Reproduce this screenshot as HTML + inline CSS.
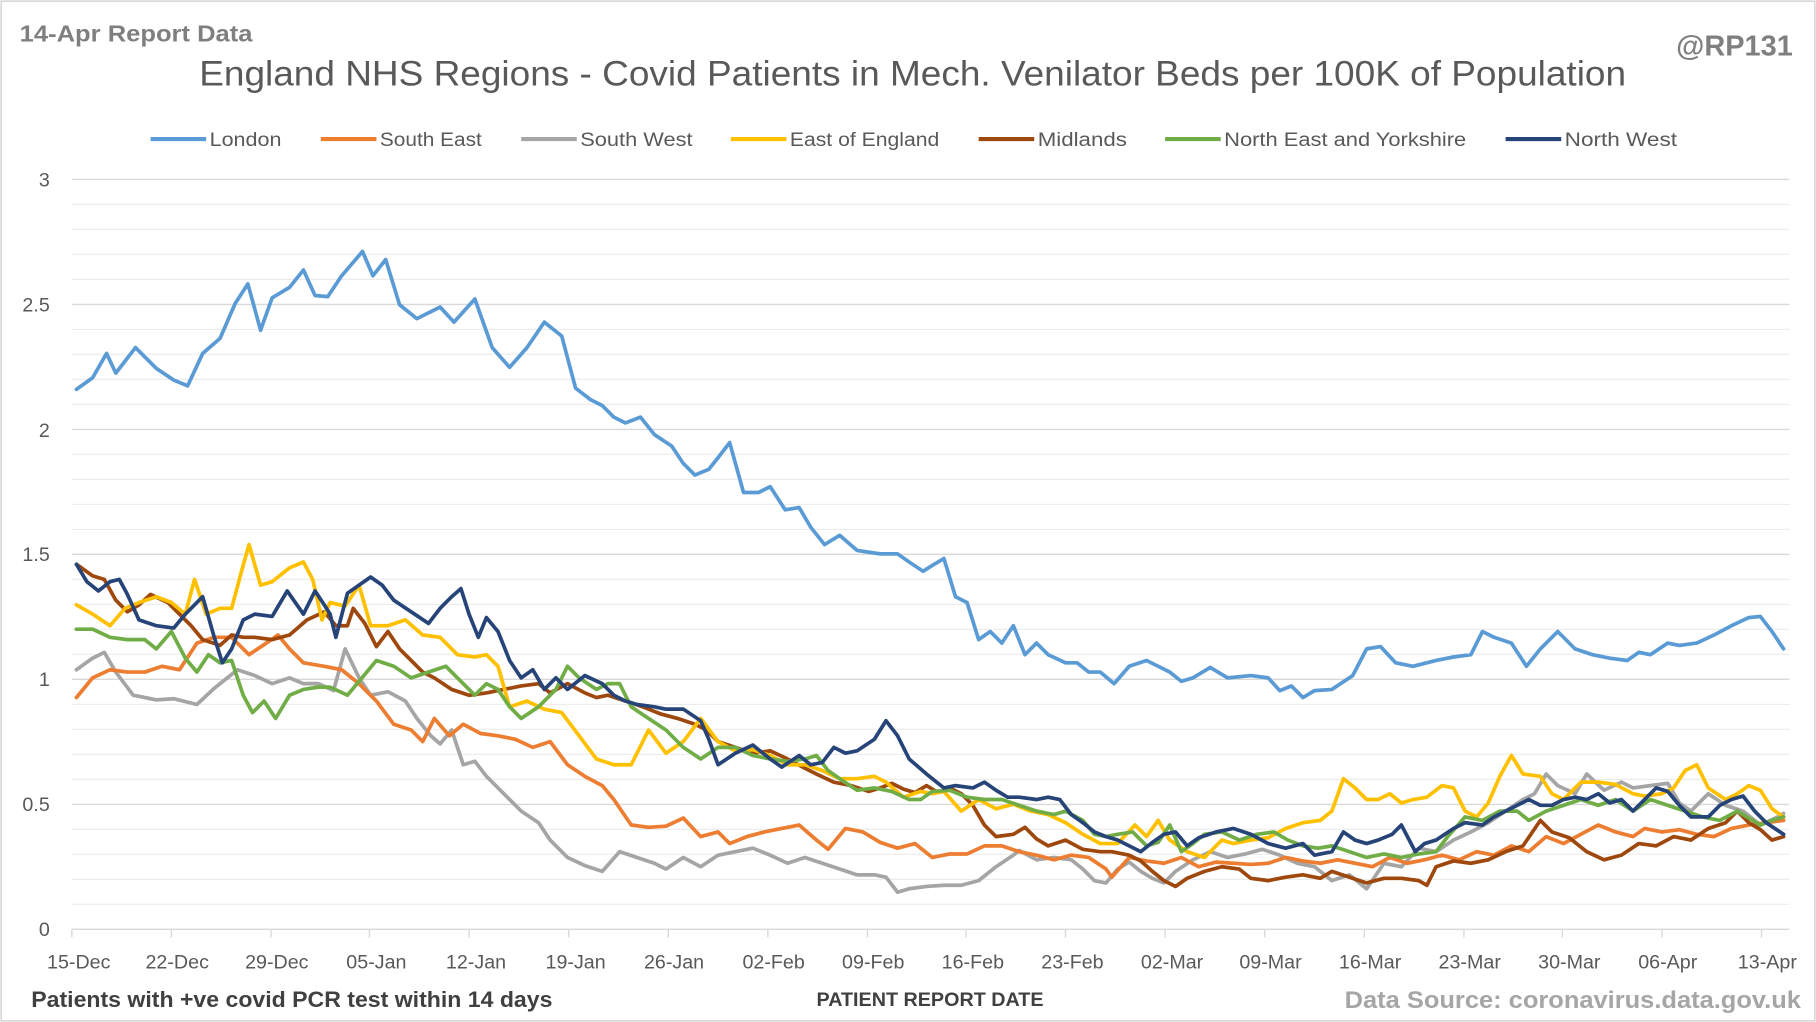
<!DOCTYPE html>
<html><head><meta charset="utf-8"><style>html,body{margin:0;padding:0;background:#fff}svg{display:block}</style></head>
<body>
<svg width="1816" height="1022" viewBox="0 0 1568 882" preserveAspectRatio="none" xmlns="http://www.w3.org/2000/svg" font-family="Liberation Sans, sans-serif">
<rect x="1" y="1" width="1566" height="880" fill="#fff" stroke="#d9d9d9" stroke-width="1.5"/>
<g stroke="#ececec" stroke-width="1">
<line x1="62" x2="1545" y1="780.4" y2="780.4"/><line x1="62" x2="1545" y1="758.9" y2="758.9"/><line x1="62" x2="1545" y1="737.3" y2="737.3"/><line x1="62" x2="1545" y1="715.7" y2="715.7"/>
<line x1="62" x2="1545" y1="672.6" y2="672.6"/><line x1="62" x2="1545" y1="651" y2="651"/><line x1="62" x2="1545" y1="629.4" y2="629.4"/><line x1="62" x2="1545" y1="607.9" y2="607.9"/>
<line x1="62" x2="1545" y1="564.7" y2="564.7"/><line x1="62" x2="1545" y1="543.1" y2="543.1"/><line x1="62" x2="1545" y1="521.6" y2="521.6"/><line x1="62" x2="1545" y1="500" y2="500"/>
<line x1="62" x2="1545" y1="456.9" y2="456.9"/><line x1="62" x2="1545" y1="435.3" y2="435.3"/><line x1="62" x2="1545" y1="413.7" y2="413.7"/><line x1="62" x2="1545" y1="392.1" y2="392.1"/>
<line x1="62" x2="1545" y1="349" y2="349"/><line x1="62" x2="1545" y1="327.4" y2="327.4"/><line x1="62" x2="1545" y1="305.8" y2="305.8"/><line x1="62" x2="1545" y1="284.3" y2="284.3"/>
<line x1="62" x2="1545" y1="241.1" y2="241.1"/><line x1="62" x2="1545" y1="219.5" y2="219.5"/><line x1="62" x2="1545" y1="198" y2="198"/><line x1="62" x2="1545" y1="176.4" y2="176.4"/>
</g>
<g stroke="#d9d9d9" stroke-width="1.2">
<line x1="62" x2="1545" y1="694.2" y2="694.2"/><line x1="62" x2="1545" y1="586.3" y2="586.3"/><line x1="62" x2="1545" y1="478.4" y2="478.4"/><line x1="62" x2="1545" y1="370.6" y2="370.6"/><line x1="62" x2="1545" y1="262.7" y2="262.7"/><line x1="62" x2="1545" y1="154.9" y2="154.9"/>
<line x1="62" x2="1545" y1="802" y2="802"/>
<path d="M62 802v7M148 802v7M234 802v7M319 802v7M405 802v7M491 802v7M577 802v7M663 802v7M749 802v7M834 802v7M920 802v7M1006 802v7M1092 802v7M1178 802v7M1264 802v7M1349 802v7M1435 802v7M1521 802v7"/>
</g>
<g fill="#595959" font-size="17" text-anchor="end">
<text x="43" y="808">0</text><text x="43" y="700">0.5</text><text x="43" y="592">1</text><text x="43" y="484">1.5</text><text x="43" y="377">2</text><text x="43" y="269">2.5</text><text x="43" y="161">3</text>
</g>
<g fill="#595959" font-size="17" text-anchor="middle">
<text x="68" y="836">15-Dec</text><text x="153" y="836">22-Dec</text><text x="239" y="836">29-Dec</text><text x="325" y="836">05-Jan</text><text x="411" y="836">12-Jan</text><text x="497" y="836">19-Jan</text><text x="582" y="836">26-Jan</text><text x="668" y="836">02-Feb</text><text x="754" y="836">09-Feb</text><text x="840" y="836">16-Feb</text><text x="926" y="836">23-Feb</text><text x="1012" y="836">02-Mar</text><text x="1097" y="836">09-Mar</text><text x="1183" y="836">16-Mar</text><text x="1269" y="836">23-Mar</text><text x="1355" y="836">30-Mar</text><text x="1440" y="836">06-Apr</text><text x="1526" y="836">13-Apr</text>
</g>
<text x="17" y="36" font-size="20" font-weight="bold" fill="#7f7f7f" textLength="201" lengthAdjust="spacingAndGlyphs">14-Apr Report Data</text>
<text x="1548" y="48" font-size="25" font-weight="bold" fill="#7f7f7f" text-anchor="end">@RP131</text>
<text x="788" y="74" font-size="30" fill="#595959" text-anchor="middle" textLength="1232" lengthAdjust="spacingAndGlyphs">England NHS Regions - Covid Patients in Mech. Venilator Beds per 100K of Population</text>
<text x="27" y="869" font-size="19" font-weight="bold" fill="#404040" textLength="450" lengthAdjust="spacingAndGlyphs">Patients with +ve covid PCR test within 14 days</text>
<text x="803" y="868" font-size="17" font-weight="bold" fill="#404040" text-anchor="middle" textLength="196" lengthAdjust="spacingAndGlyphs">PATIENT REPORT DATE</text>
<text x="1161" y="870" font-size="21" font-weight="bold" fill="#a6a6a6" textLength="394" lengthAdjust="spacingAndGlyphs">Data Source: coronavirus.data.gov.uk</text>
<g font-size="17" fill="#595959" stroke-width="3.5">
<line x1="130" x2="178" y1="120" y2="120" stroke="#5b9bd5"/><text x="181" y="126" textLength="62" lengthAdjust="spacingAndGlyphs">London</text>
<line x1="277" x2="325" y1="120" y2="120" stroke="#ed7d31"/><text x="328" y="126" textLength="88" lengthAdjust="spacingAndGlyphs">South East</text>
<line x1="450" x2="498" y1="120" y2="120" stroke="#a5a5a5"/><text x="501" y="126" textLength="97" lengthAdjust="spacingAndGlyphs">South West</text>
<line x1="631" x2="679" y1="120" y2="120" stroke="#ffc000"/><text x="682" y="126" textLength="129" lengthAdjust="spacingAndGlyphs">East of England</text>
<line x1="845" x2="893" y1="120" y2="120" stroke="#9e480e"/><text x="896" y="126" textLength="77" lengthAdjust="spacingAndGlyphs">Midlands</text>
<line x1="1006" x2="1054" y1="120" y2="120" stroke="#70ad47"/><text x="1057" y="126" textLength="209" lengthAdjust="spacingAndGlyphs">North East and Yorkshire</text>
<line x1="1300" x2="1348" y1="120" y2="120" stroke="#264478"/><text x="1351" y="126" textLength="97" lengthAdjust="spacingAndGlyphs">North West</text>
</g>
<g fill="none" stroke-width="3.2" stroke-linejoin="round" stroke-linecap="round">
<polyline stroke="#a5a5a5" points="66,578 80,568 90,563 100,580 115,600 135,604 150,603 170,608 185,594 205,578 220,583 235,590 250,585 262,590 275,590 288,596 298,560 310,585 320,600 335,597 350,605 360,620 372,635 380,642 390,630 400,660 410,657 420,670 435,685 450,700 465,710 475,725 490,740 505,747 520,752 535,735 550,740 565,745 575,750 590,740 605,748 620,738 635,735 650,732 665,738 680,745 695,740 710,745 725,750 740,755 755,755 765,757 775,770 785,767 800,765 815,764 830,764 845,760 860,748 875,738 880,734 895,742 910,740 925,742 935,750 945,760 955,762 965,750 975,744 985,752 995,758 1005,762 1015,752 1030,742 1045,735 1060,740 1075,737 1090,733 1105,738 1120,745 1135,748 1150,760 1165,755 1180,767 1195,745 1210,748 1225,732 1240,735 1255,725 1270,718 1285,710 1300,700 1315,690 1325,685 1335,668 1345,678 1360,685 1370,668 1385,682 1400,675 1410,680 1425,678 1440,676 1450,693 1460,700 1475,685 1490,695 1505,700 1520,712 1535,705 1540,702"/>
<polyline stroke="#ed7d31" points="66,602 80,585 95,578 110,580 125,580 140,575 155,578 170,555 185,550 200,550 215,565 230,555 240,548 250,560 262,572 280,575 295,578 310,590 325,605 340,625 355,630 365,640 375,620 388,635 400,625 415,633 430,635 445,638 460,645 475,640 490,660 505,670 520,678 530,690 545,712 560,714 575,713 590,706 605,722 620,718 630,728 645,722 660,718 675,715 690,712 705,725 715,733 730,715 745,718 760,727 775,732 790,728 805,740 820,737 835,737 850,730 865,730 880,735 895,738 910,742 925,738 940,740 955,750 960,757 975,740 990,743 1005,745 1020,740 1035,748 1050,744 1065,745 1080,746 1095,745 1110,740 1125,743 1140,745 1155,742 1170,745 1185,748 1200,740 1215,745 1230,742 1245,738 1260,742 1275,735 1290,738 1305,730 1320,735 1335,722 1350,728 1365,720 1380,712 1395,718 1410,722 1420,715 1435,718 1450,716 1465,720 1480,722 1495,715 1510,712 1525,710 1540,708"/>
<polyline stroke="#9e480e" points="66,487 80,497 90,500 100,518 110,528 120,522 130,513 145,520 155,530 165,540 175,552 190,557 200,548 210,550 220,550 235,552 250,548 265,535 280,528 290,540 300,540 305,525 315,538 325,558 335,545 345,560 355,570 365,580 375,585 390,595 405,600 420,598 435,595 450,592 465,590 475,598 490,590 505,598 515,602 525,600 540,605 555,610 570,616 585,620 600,625 610,630 620,640 635,645 650,650 665,648 680,655 695,663 705,668 720,675 735,678 750,683 760,680 770,676 780,681 790,684 800,678 810,684 820,680 830,685 840,695 850,712 860,722 875,720 885,714 895,724 905,730 920,725 935,733 950,735 960,735 975,738 985,743 995,752 1005,760 1015,765 1025,758 1040,752 1055,748 1070,750 1080,758 1095,760 1110,757 1125,755 1140,758 1150,752 1165,757 1180,762 1195,758 1210,758 1225,760 1232,764 1240,748 1255,743 1270,745 1285,742 1300,735 1315,730 1330,708 1340,718 1355,723 1370,735 1385,742 1400,738 1415,728 1430,730 1445,722 1460,725 1475,715 1490,710 1500,700 1510,710 1520,716 1530,725 1540,722"/>
<polyline stroke="#ffc000" points="66,522 80,530 95,540 108,525 120,520 135,515 148,520 160,530 168,500 178,530 190,525 200,525 208,495 215,470 225,505 235,502 250,490 262,485 270,500 278,535 285,520 298,523 310,505 320,540 335,540 350,535 365,548 380,550 395,565 410,567 420,565 430,575 440,610 455,605 470,612 485,615 500,635 515,655 530,660 545,660 560,630 575,650 590,640 605,620 620,640 635,648 650,647 665,652 680,660 695,660 710,665 725,672 740,672 755,670 765,675 780,688 795,683 805,685 815,683 830,700 845,690 860,698 875,694 890,700 905,703 920,710 935,720 950,728 965,728 980,712 990,722 1000,708 1010,725 1025,735 1040,740 1055,725 1065,728 1080,725 1095,723 1110,715 1125,710 1140,708 1150,700 1160,672 1170,680 1180,690 1190,690 1200,685 1210,693 1220,690 1232,688 1245,678 1255,680 1265,700 1275,705 1285,693 1295,670 1305,652 1315,668 1330,670 1340,685 1350,690 1365,675 1380,675 1395,677 1410,685 1420,687 1435,685 1445,680 1455,665 1465,660 1475,680 1490,690 1500,685 1510,678 1520,682 1530,698 1540,705"/>
<polyline stroke="#70ad47" points="66,543 80,543 95,550 110,552 125,552 135,560 148,545 160,568 170,580 180,565 190,572 200,570 210,600 218,615 228,605 238,620 250,600 262,595 275,593 285,593 300,600 315,582 325,570 340,575 355,585 370,580 385,575 400,590 410,600 420,590 430,595 440,610 450,620 465,610 480,595 490,575 500,585 515,595 525,590 535,590 545,610 560,620 575,630 590,645 605,655 620,645 635,645 650,652 665,655 680,657 695,655 705,652 715,665 725,672 740,682 755,680 770,683 785,690 795,690 805,683 820,682 835,688 850,690 865,690 880,695 895,700 910,703 920,700 935,708 945,720 955,722 965,720 978,718 990,730 1000,727 1010,712 1020,735 1030,728 1040,720 1055,718 1070,725 1085,720 1100,718 1112,725 1125,730 1138,732 1150,730 1165,735 1180,740 1195,737 1210,740 1225,737 1240,735 1250,722 1265,705 1280,708 1295,700 1310,700 1320,708 1335,700 1350,695 1365,690 1380,695 1395,690 1410,700 1425,690 1440,695 1455,700 1470,705 1485,708 1500,700 1510,706 1520,712 1530,708 1540,705"/>
<polyline stroke="#264478" points="66,487 75,502 85,510 95,502 103,500 110,513 120,535 135,540 150,542 160,530 175,515 185,550 192,572 200,560 210,535 220,530 235,532 248,510 255,520 262,530 272,510 280,522 285,530 290,550 300,512 310,505 320,498 330,505 340,518 355,528 370,538 380,525 390,515 398,508 405,530 413,550 420,533 430,545 440,570 450,585 460,578 470,595 480,585 490,595 505,583 520,590 530,600 540,605 550,608 565,610 575,612 590,612 605,622 612,638 620,660 635,650 650,643 665,655 675,662 690,652 700,660 710,658 720,645 730,650 740,648 755,638 765,622 775,635 785,655 800,668 815,680 825,678 840,680 850,675 860,682 870,688 880,688 895,690 905,688 915,690 925,703 935,710 945,718 955,722 965,725 975,730 985,735 995,727 1005,720 1015,718 1025,730 1035,723 1050,718 1065,715 1080,720 1095,728 1110,732 1125,728 1135,738 1150,735 1160,718 1170,725 1180,728 1190,725 1202,720 1210,712 1222,735 1230,728 1240,725 1255,715 1265,710 1280,712 1290,705 1300,700 1310,695 1320,690 1330,695 1340,695 1350,690 1360,688 1370,690 1380,685 1390,693 1400,690 1410,700 1420,690 1430,680 1440,683 1450,695 1460,705 1475,705 1485,695 1495,690 1505,687 1515,700 1525,710 1540,720"/>
<polyline stroke="#5b9bd5" points="66,336 80,326 92,305 100,322 117,300 135,318 150,328 162,333 175,305 190,292 203,262 214,245 225,285 235,257 250,248 262,233 272,255 283,256 295,238 313,217 322,238 333,224 345,263 360,275 380,265 392,278 410,258 425,300 440,317 455,300 470,278 485,290 497,335 510,345 520,350 530,360 540,365 553,360 565,375 580,385 590,400 600,410 612,405 620,395 630,382 642,425 655,425 665,420 678,440 690,438 700,455 712,470 725,462 740,475 760,478 775,478 785,485 797,493 805,488 815,482 825,515 835,520 845,552 855,545 865,555 875,540 885,565 895,555 905,565 920,572 930,572 940,580 950,580 962,590 975,575 990,570 1000,575 1010,580 1020,588 1030,585 1045,576 1060,585 1080,583 1095,585 1105,596 1115,592 1125,602 1135,596 1150,595 1168,583 1180,560 1192,558 1205,572 1220,575 1240,570 1255,567 1270,565 1280,545 1290,550 1305,555 1318,575 1330,560 1345,545 1360,560 1375,565 1390,568 1405,570 1415,563 1425,565 1440,555 1450,557 1465,555 1480,548 1495,540 1510,533 1520,532 1530,545 1540,560"/>
</g>
</svg>
</body></html>
